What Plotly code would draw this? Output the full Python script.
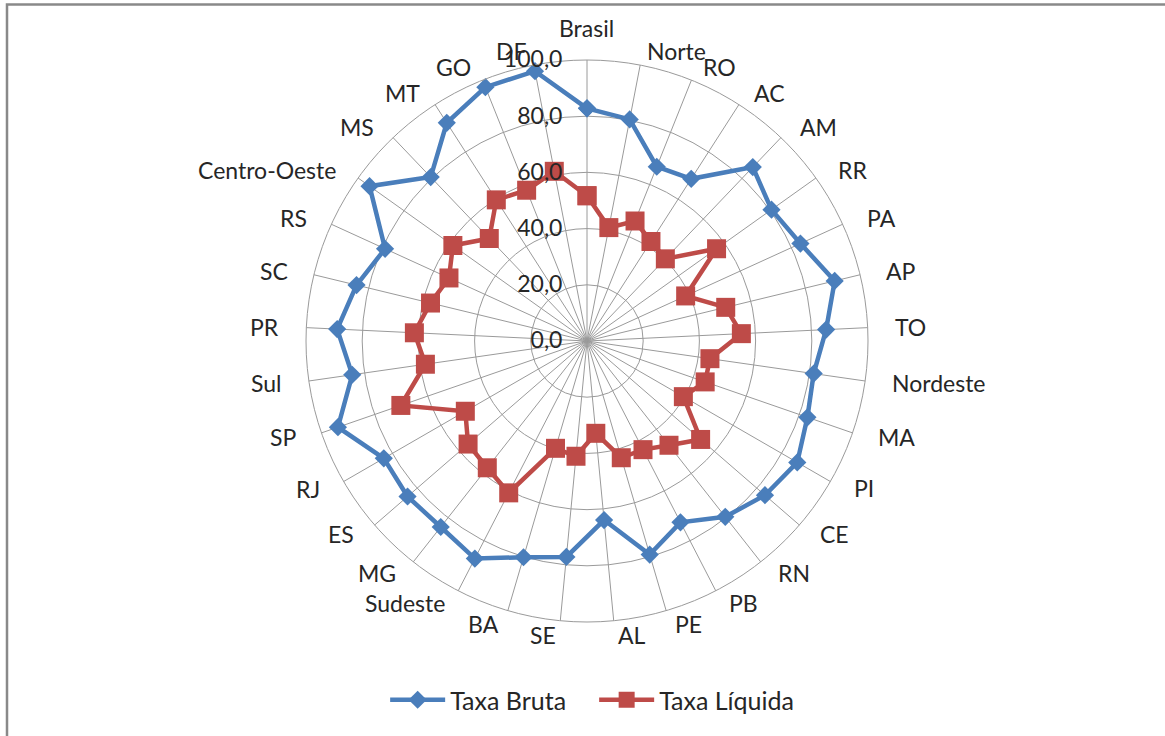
import math
import plotly.graph_objects as go

# Unidades da federação e regiões, na ordem em que aparecem no radar
categorias = [
    "Brasil", "Norte", "RO", "AC", "AM", "RR", "PA", "AP", "TO",
    "Nordeste", "MA", "PI", "CE", "RN", "PB", "PE", "AL", "SE", "BA",
    "Sudeste", "MG", "ES", "RJ", "SP",
    "Sul", "PR", "SC", "RS",
    "Centro-Oeste", "MS", "MT", "GO", "DF",
]

taxa_bruta = [
    82.8, 80.3, 66.8, 68.6, 85.5, 80.6, 83.5, 90.7, 85.2,
    81.5, 83.0, 86.4, 83.8, 79.6, 72.6, 79.2, 64.0, 77.2, 80.2,
    87.1, 84.2, 84.5, 83.5, 93.8,
    84.4, 89.0, 84.4, 79.0,
    95.0, 80.6, 92.3, 97.3, 97.8,
]

taxa_liquida = [
    51.7, 41.1, 46.0, 42.1, 40.4, 56.6, 38.6, 50.8, 55.0,
    44.2, 44.5, 39.6, 53.5, 47.2, 43.5, 43.3, 33.0, 41.2, 39.8,
    60.8, 57.4, 56.0, 50.0, 70.1,
    58.1, 61.5, 57.3, 54.0,
    58.6, 50.4, 59.7, 57.8, 61.5,
]

marcas_radiais = [0, 20, 40, 60, 80, 100]

AZUL = "#4A7EBB"
VERMELHO = "#BE4B48"
TEXTO = "#262626"
GRADE = "#9A9A9A"
FONTE = "Lato"
TAM = 23
TAM_LEGENDA = 25


def fechar(valores):
    # repete o primeiro ponto para fechar o polígono
    return list(valores) + [valores[0]]


fig = go.Figure()

fig.add_trace(go.Scatterpolar(
    r=fechar(taxa_bruta),
    theta=fechar(categorias),
    mode="lines+markers",
    name="Taxa Bruta",
    line=dict(color=AZUL, width=4.5),
    marker=dict(symbol="diamond", size=14, color=AZUL),
))

fig.add_trace(go.Scatterpolar(
    r=fechar(taxa_liquida),
    theta=fechar(categorias),
    mode="lines+markers",
    name="Taxa Líquida",
    line=dict(color=VERMELHO, width=4.5),
    marker=dict(symbol="square", size=19, color=VERMELHO),
))

W, H = 1165, 736
cx, cy, raio = 587, 341, 281

# Rótulos das categorias ao redor do círculo: a borda interna do texto
# fica junto ao círculo externo, alinhada à esquerda na metade direita
# e à direita na metade esquerda.
anotacoes = []
n = len(categorias)
for i, nome in enumerate(categorias):
    ang = math.radians(i * 360.0 / n)
    s, c = math.sin(ang), math.cos(ang)
    if i == 0:
        px, py, xa = cx, cy - 313, "center"
    else:
        px = cx + 306 * s
        py = cy - 295 * c
        xa = "left" if s > 0 else "right"
    anotacoes.append(dict(
        text=nome, x=px / W, y=1 - py / H,
        xref="paper", yref="paper",
        xanchor=xa, yanchor="middle",
        showarrow=False,
        font=dict(family=FONTE, size=TAM, color=TEXTO),
    ))

fig.update_layout(
    width=W,
    height=H,
    margin=dict(l=0, r=0, t=0, b=0),
    paper_bgcolor="white",
    plot_bgcolor="white",
    separators=",.",
    font=dict(family=FONTE, size=TAM, color=TEXTO),
    polar=dict(
        domain=dict(
            x=[(cx - raio) / W, (cx + raio) / W],
            y=[1 - (cy + raio) / H, 1 - (cy - raio) / H],
        ),
        bgcolor="white",
        gridshape="circular",
        angularaxis=dict(
            type="category",
            categoryorder="array",
            categoryarray=categorias,
            rotation=90,
            direction="clockwise",
            showline=True,
            linecolor=GRADE,
            linewidth=1,
            showgrid=True,
            gridcolor=GRADE,
            gridwidth=1,
            ticks="",
            showticklabels=False,
        ),
        radialaxis=dict(
            range=[0, 100],
            tickvals=marcas_radiais,
            tickformat=".1f",
            angle=90,
            tickangle=90,
            side="counterclockwise",
            showline=False,
            ticks="outside",
            ticklen=16,
            tickcolor="rgba(0,0,0,0)",
            showgrid=True,
            gridcolor=GRADE,
            gridwidth=1,
            tickfont=dict(family=FONTE, size=TAM, color=TEXTO),
        ),
    ),
    legend=dict(
        orientation="h",
        x=0.51,
        xanchor="center",
        y=1 - 700 / H,
        yanchor="middle",
        font=dict(family=FONTE, size=TAM_LEGENDA, color=TEXTO),
        itemwidth=55,
        entrywidth=139,
        bgcolor="rgba(0,0,0,0)",
    ),
    annotations=anotacoes,
    shapes=[
        dict(
            type="rect",
            xref="paper", yref="paper",
            x0=7 / W, x1=1.02,
            y0=-0.02, y1=1 - 4.5 / H,
            line=dict(color="#898989", width=2.5),
            fillcolor="rgba(0,0,0,0)",
            layer="below",
        )
    ],
)

fig.write_html("out.html")
